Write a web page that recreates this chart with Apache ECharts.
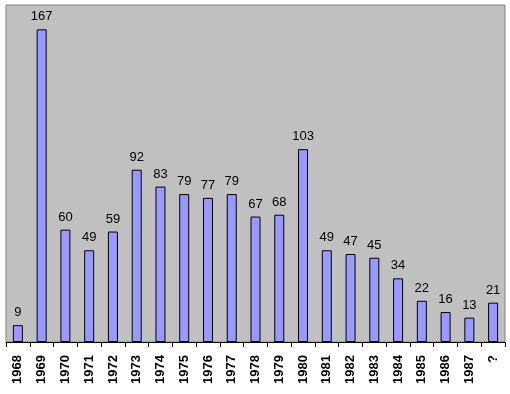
<!DOCTYPE html>
<html><head><meta charset="utf-8">
<script src="https://cdn.jsdelivr.net/npm/echarts@6/dist/echarts.min.js"></script>
<style>html,body{margin:0;padding:0;background:#fff}#c{width:510px;height:394px}</style>
</head><body><div id="c"></div>
<script>
const categories = ['1968','1969','1970','1971','1972','1973','1974','1975','1976','1977','1978','1979','1980','1981','1982','1983','1984','1985','1986','1987','?'];
const values = [9,167,60,49,59,92,83,79,77,79,67,68,103,49,47,45,34,22,16,13,21];
const yMax = 180;
const chart = echarts.init(document.getElementById('c'));
chart.setOption({
  animation: false,
  backgroundColor: '#ffffff',
  grid: {left: 6, right: 5, top: 5, bottom: 52, show: true, backgroundColor: '#C0C0C0', borderColor: '#808080', borderWidth: 1},
  xAxis: {
    type: 'category', data: categories,
    axisLine: {lineStyle: {color: '#000', width: 1}},
    axisTick: {show: true, length: 5, lineStyle: {color: '#000'}},
    axisLabel: {rotate: 90, margin: 13, fontFamily: 'Liberation Sans, Arial', fontWeight: 'bold', fontSize: 13, color: '#000'}
  },
  yAxis: {type: 'value', min: 0, max: yMax, show: false, splitLine: {show: false}},
  series: [{
    type: 'bar', data: values, barWidth: 10,
    itemStyle: {color: '#9999FF', borderColor: '#000', borderWidth: 1},
    label: {show: true, position: 'top', distance: 6, fontFamily: 'Liberation Sans, Arial', fontSize: 13, color: '#000'}
  }]
});
</script></body></html>
